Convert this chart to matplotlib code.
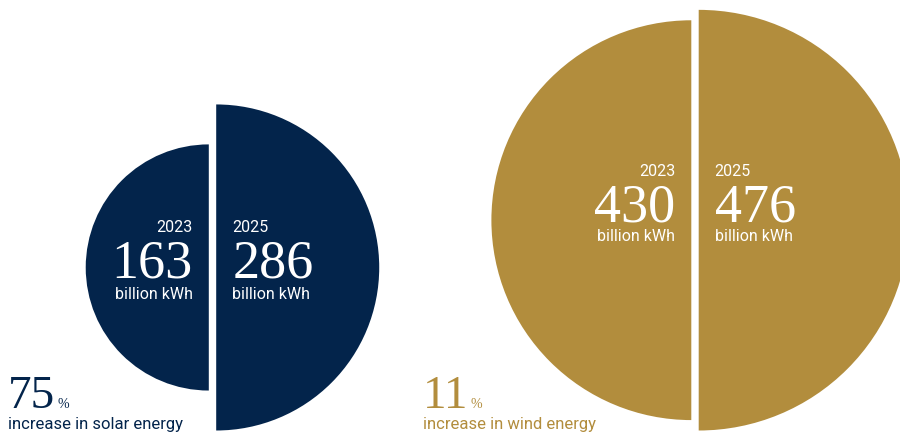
import numpy as np
import matplotlib
matplotlib.use("Agg")
from matplotlib import pyplot as plt
from matplotlib.patches import Wedge

# values
energy = ["solar", "wind"]
years = ["2023", "2025"]
solar_values = [163, 286]
wind_values = [430, 476]
increase_pct = [75, 11]
unit = "billion kWh"

navy = "#03244b"
gold = "#b28d3d"

SERIF = ["Liberation Serif", "DejaVu Serif"]
SANS = ["Roboto", "DejaVu Sans"]

# layout in pixels (figure is 900 x 437)
k = 9.64            # radius = k * sqrt(value), so half-disc area follows the value
base_y = 430.5      # bottom of the larger half
gap = 3.7
groups = [
    # values, colour, centre x, baselines of year / number / unit, label x
    (solar_values, navy, 212.5, (232, 278, 299), 8),
    (wind_values, gold, 695.0, (176, 222, 241), 423),
]

fig = plt.figure(figsize=(9, 4.37), dpi=100)
ax = fig.add_axes([0, 0, 1, 1])
ax.set_xlim(0, 900)
ax.set_ylim(437, 0)
ax.axis("off")

for i, (vals, col, cx, (y_year, y_num, y_unit), lx) in enumerate(groups):
    r_old = k * np.sqrt(vals[0])
    r_new = k * np.sqrt(vals[1])
    cy = base_y - max(r_old, r_new)
    # left half = 2023, right half = 2025
    ax.add_patch(Wedge((cx - gap, cy), r_old, 90, 270, color=col, lw=0))
    ax.add_patch(Wedge((cx + gap, cy), r_new, -90, 90, color=col, lw=0))

    for side, (yr, v) in enumerate(zip(years, vals)):
        if side == 0:
            tx, ha = cx - gap - 16, "right"
        else:
            tx, ha = cx + gap + 16, "left"
        ax.text(tx, y_year, yr, ha=ha, va="baseline", color="white",
                fontsize=11.5, family=SANS)
        ax.text(tx, y_num, str(v), ha=ha, va="baseline", color="white",
                fontsize=39, family=SERIF)
        ax.text(tx, y_unit, unit, ha=ha, va="baseline", color="white",
                fontsize=11.5, family=SANS)

    # percentage increase below
    t = ax.text(lx, 408, str(increase_pct[i]), ha="left", va="baseline",
                color=col, fontsize=34, family=SERIF)
    fig.canvas.draw()
    bb = t.get_window_extent()
    px = bb.x1 + 2
    ax.text(px, 408, "%", ha="left", va="baseline", color=col,
            fontsize=10, family=SERIF)
    ax.text(lx, 429, "increase in " + energy[i] + " energy", ha="left",
            va="baseline", color=col, fontsize=12, family=SANS)

fig.savefig("out.png", dpi=100)
